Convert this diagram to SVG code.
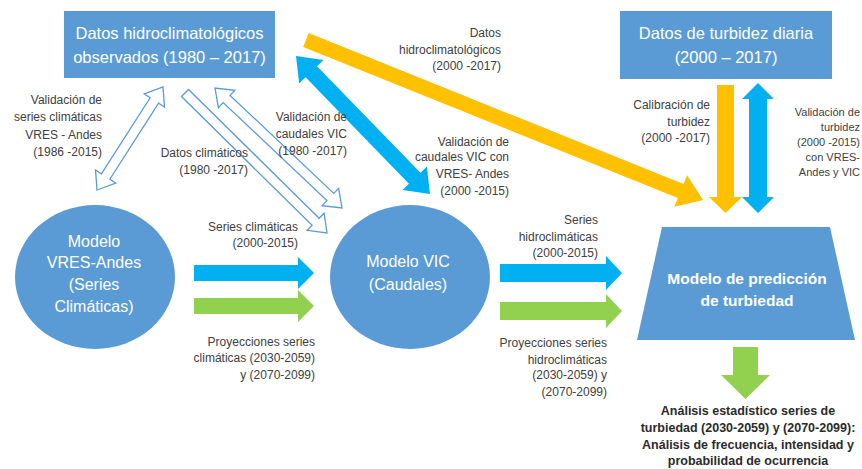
<svg xmlns="http://www.w3.org/2000/svg" width="862" height="469" viewBox="0 0 862 469">
<style>
.node{fill:#5b9bd5;}
.nt{font-family:"Liberation Sans",Arial,sans-serif;font-size:16px;fill:#ffffff;text-anchor:middle;}
.lbl{font-family:"Liberation Sans",Arial,sans-serif;font-size:12px;fill:#404040;text-anchor:end;}
.bold{font-family:"Liberation Sans",Arial,sans-serif;font-size:12.5px;font-weight:bold;fill:#2b2b2b;text-anchor:middle;}
.hollow{fill:#ffffff;stroke:#5b9bd5;stroke-width:1.3;stroke-linejoin:miter;}
.blue{fill:#00b0f0;}
.yellow{fill:#ffc000;}
.green{fill:#92d050;}
</style>
<rect width="862" height="469" fill="#ffffff"/>

<g id="connectors">
  <!-- hollow arrows -->
  <polygon class="hollow" points="97,190 115.74,183.01 109.84,179.23 158.58,103.17 164.48,106.95 163,87 144.26,93.99 150.16,97.77 101.42,173.83 95.52,170.05"/>
  <polygon class="hollow" points="181.49,96.56 312.10,225.33 307.18,230.32 327,233 324.04,213.22 319.12,218.21 188.51,89.44"/>
  <polygon class="hollow" points="215,88 218.39,107.71 223.20,102.62 326.94,200.64 322.13,205.73 342,208 338.61,188.29 333.80,193.38 230.06,95.36 234.87,90.27"/>
  <!-- blue diagonal double arrow -->
  <polygon class="blue" points="296,56 299.13,83.62 305.58,77.35 408.94,183.79 402.49,190.06 430,194 426.87,166.38 420.42,172.65 317.06,66.21 323.51,59.94"/>
  <!-- yellow diagonal arrow -->
  <polygon class="yellow" points="308.8,33.0 683.5,184.1 687.1,175.3 703,200 674.4,206.8 677.9,198.0 303.2,47.0"/>
  <!-- horizontal arrows -->
  <polygon class="blue" points="194,265 298,265 298,257 314,273 298,289 298,281 194,281"/>
  <polygon class="green" points="194,298 298,298 298,290 314,306 298,322 298,314 194,314"/>
  <polygon class="blue" points="500,264 606,264 606,256 622,273 606,290 606,282 500,282"/>
  <polygon class="green" points="500,302 606,302 606,294 622,311 606,328 606,320 500,320"/>
  <!-- vertical arrows -->
  <polygon class="yellow" points="717,85 734,85 734,197 742,197 725.5,213 709,197 717,197"/>
  <polygon class="blue" points="758,83 774,99 767,99 767,197 774,197 758,213 742,197 749,197 749,99 742,99"/>
  <polygon class="green" points="733,347 758,347 758,375 770,375 745.5,399 721,375 733,375"/>

  <!-- connector labels -->
  <text class="lbl"><tspan x="102" y="104">Validación de</tspan><tspan x="102" y="121">series climáticas</tspan><tspan x="102" y="139">VRES - Andes</tspan><tspan x="102" y="156">(1986 -2015)</tspan></text>
  <text class="lbl"><tspan x="248" y="157">Datos climáticos</tspan><tspan x="248" y="174">(1980 -2017)</tspan></text>
  <text class="lbl"><tspan x="347" y="121">Validación de</tspan><tspan x="347" y="138">caudales VIC</tspan><tspan x="347" y="155">(1980 -2017)</tspan></text>
  <text class="lbl"><tspan x="298" y="231">Series climáticas</tspan><tspan x="298" y="247">(2000-2015)</tspan></text>
  <text class="lbl"><tspan x="315" y="346">Proyecciones series</tspan><tspan x="315" y="362">climáticas (2030-2059)</tspan><tspan x="315" y="379">y (2070-2099)</tspan></text>
  <text class="lbl"><tspan x="501" y="37">Datos</tspan><tspan x="501" y="54">hidroclimatológicos</tspan><tspan x="501" y="70">(2000 -2017)</tspan></text>
  <text class="lbl"><tspan x="509" y="146">Validación de</tspan><tspan x="509" y="161">caudales VIC con</tspan><tspan x="509" y="178">VRES- Andes</tspan><tspan x="509" y="195">(2000 -2015)</tspan></text>
  <text class="lbl"><tspan x="598" y="224">Series</tspan><tspan x="598" y="241">hidroclimáticas</tspan><tspan x="598" y="257">(2000-2015)</tspan></text>
  <text class="lbl"><tspan x="607" y="347">Proyecciones series</tspan><tspan x="607" y="364">hidroclimáticas</tspan><tspan x="607" y="379">(2030-2059) y</tspan><tspan x="607" y="396">(2070-2099)</tspan></text>
  <text class="lbl"><tspan x="710" y="109">Calibración de</tspan><tspan x="710" y="126">turbidez</tspan><tspan x="710" y="142">(2000 -2017)</tspan></text>
  <text class="lbl" style="font-size:11px"><tspan x="860" y="116">Validación de</tspan><tspan x="860" y="131">turbidez</tspan><tspan x="860" y="146">(2000 -2015)</tspan><tspan x="860" y="161">con VRES-</tspan><tspan x="860" y="176">Andes y VIC</tspan></text>
</g>

<g id="datos-hidro">
  <rect class="node" x="64" y="11" width="211" height="67"/>
  <text class="nt" style="font-size:16.5px"><tspan x="169.5" y="39">Datos hidroclimatológicos</tspan><tspan x="169.5" y="63">observados (1980 – 2017)</tspan></text>
</g>
<g id="datos-turbidez">
  <rect class="node" x="620" y="11" width="212" height="68"/>
  <text class="nt" style="font-size:16.5px"><tspan x="726" y="39">Datos de turbidez diaria</tspan><tspan x="726" y="63">(2000 – 2017)</tspan></text>
</g>
<g id="modelo-vres">
  <ellipse class="node" cx="95" cy="277" rx="80" ry="72"/>
  <text class="nt"><tspan x="94" y="247">Modelo</tspan><tspan x="94" y="268">VRES-Andes</tspan><tspan x="94" y="290">(Series</tspan><tspan x="94" y="312">Climáticas)</tspan></text>
</g>
<g id="modelo-vic">
  <ellipse class="node" cx="410" cy="277" rx="80" ry="72"/>
  <text class="nt"><tspan x="408" y="267">Modelo VIC</tspan><tspan x="408" y="290">(Caudales)</tspan></text>
</g>
<g id="modelo-prediccion">
  <polygon class="node" points="662,227 830,227 855,340 637,340"/>
  <text class="nt" style="font-weight:bold;font-size:15.5px"><tspan x="747" y="284">Modelo de predicción</tspan><tspan x="747" y="306">de turbiedad</tspan></text>
</g>
<g id="analisis">
  <text class="bold"><tspan x="748" y="415">Análisis estadístico series de</tspan><tspan x="748" y="432">turbiedad (2030-2059) y (2070-2099):</tspan><tspan x="748" y="449">Análisis de frecuencia, intensidad y</tspan><tspan x="748" y="465">probabilidad de ocurrencia</tspan></text>
</g>
</svg>
